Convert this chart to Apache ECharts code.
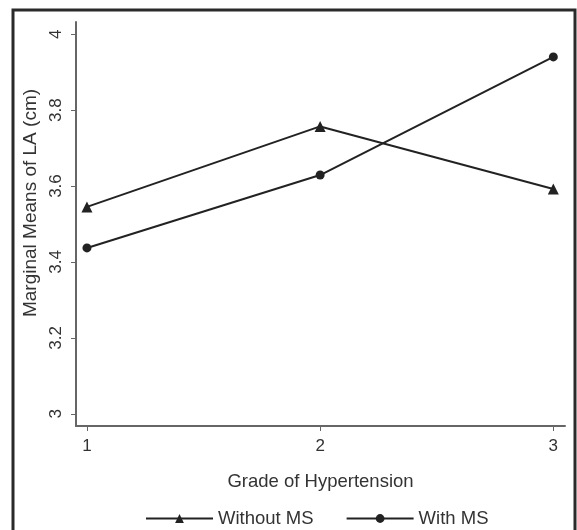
<!DOCTYPE html>
<html><head><meta charset="utf-8">
<script src="https://cdn.jsdelivr.net/npm/echarts@6/dist/echarts.min.js"></script>
<style>html,body{margin:0;padding:0;background:#fff}#c{width:577px;height:530px}</style>
</head><body><div id="c"></div>
<script>
var grades = [1, 2, 3];
var withoutMS = [3.545, 3.757, 3.592];
var withMS = [3.437, 3.629, 3.940];
var yTicks = [3, 3.2, 3.4, 3.6, 3.8, 4];
var xTicks = [1, 2, 3];

var chart = echarts.init(document.getElementById('c'));
var font = 'Liberation Sans, Arial, sans-serif';
chart.setOption({
  animation: false,
  backgroundColor: '#fff',
  graphic: [{type: 'rect', shape: {x: 13, y: 10, width: 562, height: 530}, style: {fill: 'none', stroke: '#2a2a2a', lineWidth: 3}, z: 100}],
  grid: {left: 76, right: 12, top: 22, bottom: 104},
  xAxis: {
    type: 'value', min: 0.953, max: 3.05,
    name: 'Grade of Hypertension', nameLocation: 'middle', nameGap: 46,
    nameTextStyle: {fontFamily: font, fontSize: 18.5, color: '#333'},
    axisLine: {lineStyle: {color: '#666', width: 2}},
    axisTick: {customValues: xTicks, length: 5, lineStyle: {color: '#666'}},
    axisLabel: {customValues: xTicks, fontFamily: font, fontSize: 17, color: '#333', margin: 12},
    splitLine: {show: false}
  },
  yAxis: {
    type: 'value', min: 2.968, max: 4.032,
    name: 'Marginal Means of LA (cm)', nameLocation: 'middle', nameGap: 30,
    nameTextStyle: {fontFamily: font, fontSize: 19, color: '#333', padding: [0, 0, 0, 42]},
    axisLine: {show: true, lineStyle: {color: '#666', width: 2}},
    axisTick: {show: true, customValues: yTicks, length: 5, lineStyle: {color: '#666'}},
    axisLabel: {customValues: yTicks, rotate: 90, fontFamily: font, fontSize: 17, color: '#333', margin: 11,
      formatter: function (v) { return String(Math.round(v * 10) / 10); }},
    splitLine: {show: false}
  },
  legend: {
    top: 504, left: 140, itemWidth: 67, itemHeight: 11, itemGap: 32,
    textStyle: {fontFamily: font, fontSize: 18.5, color: '#333'},
    data: ['Without MS', 'With MS']
  },
  series: [
    {name: 'Without MS', type: 'line', data: grades.map(function (g, i) { return [g, withoutMS[i]]; }),
      symbol: 'triangle', symbolSize: 11, lineStyle: {color: '#222', width: 2}, itemStyle: {color: '#222'}},
    {name: 'With MS', type: 'line', data: grades.map(function (g, i) { return [g, withMS[i]]; }),
      symbol: 'circle', symbolSize: 9, lineStyle: {color: '#222', width: 2}, itemStyle: {color: '#222'}}
  ]
});
</script></body></html>
